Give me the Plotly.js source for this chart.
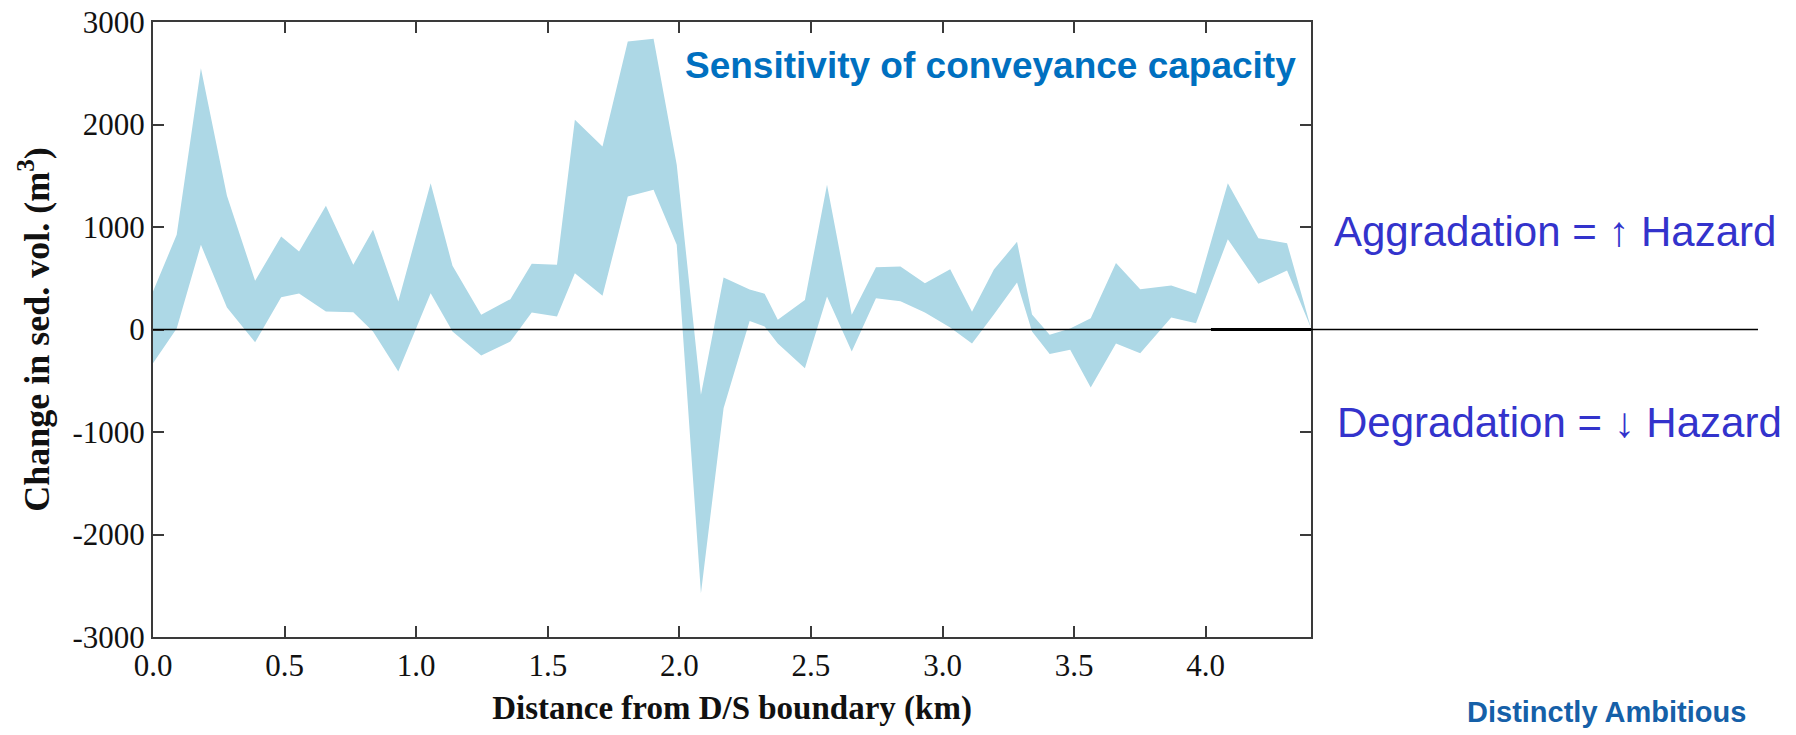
<!DOCTYPE html>
<html>
<head>
<meta charset="utf-8">
<script src="https://cdn.plot.ly/plotly-3.0.1.min.js"></script>
<style>
  html, body { margin: 0; padding: 0; background: #ffffff; }
  #chart { width: 1796px; height: 735px; }
</style>
</head>
<body>
<div id="chart"></div>
<script>
// Distance from D/S boundary (km)
const distanceKm = [0, 0.09, 0.182, 0.281, 0.388, 0.487, 0.555, 0.657, 0.761, 0.836,
  0.932, 1.055, 1.138, 1.247, 1.358, 1.439, 1.535, 1.603, 1.708, 1.804,
  1.902, 1.99, 2.082, 2.168, 2.267, 2.324, 2.374, 2.477, 2.561, 2.655,
  2.747, 2.84, 2.933, 3.029, 3.112, 3.195, 3.283, 3.34, 3.407, 3.485,
  3.563, 3.659, 3.751, 3.869, 3.963, 4.084, 4.2, 4.309, 4.4];

// Upper bound of change in sediment volume (m3)
const upperVol = [370, 924, 2550, 1304, 475, 907, 761, 1207, 631, 973,
  273, 1427, 621, 143, 296, 641, 631, 2046, 1785, 2810,
  2836, 1607, -637, 507, 390, 350, 94, 287, 1412, 143,
  608, 615, 452, 588, 172, 585, 855, 146, -52, 10,
  110, 648, 393, 429, 348, 1427, 891, 842, 15];

// Lower bound of change in sediment volume (m3)
const lowerVol = [-329, 10, 826, 215, -124, 315, 351, 176, 169, -20,
  -410, 354, -20, -254, -117, 166, 127, 549, 329, 1298,
  1363, 826, -2572, -768, 82, 30, -137, -378, 322, -215,
  305, 276, 165, 20, -137, 146, 459, -20, -239, -198,
  -566, -137, -231, 117, 62, 881, 446, 576, 15];

const yTickVals = [-3000, -2000, -1000, 0, 1000, 2000, 3000];
const yTickText = ['-3000', '-2000', '-1000', '0', '1000', '2000', '3000'];
const xTickVals = [0, 0.5, 1.0, 1.5, 2.0, 2.5, 3.0, 3.5, 4.0];
const xTickText = ['0.0', '0.5', '1.0', '1.5', '2.0', '2.5', '3.0', '3.5', '4.0'];

const bandColor = 'rgb(173,216,230)';
const axisColor = '#3a3a3a';
const serif = 'Liberation Serif, Times New Roman, serif';
const sans = 'Liberation Sans, Arial, sans-serif';

const traces = [
  {
    x: distanceKm, y: lowerVol, type: 'scatter', mode: 'lines',
    line: { width: 0, color: bandColor }, hoverinfo: 'skip', showlegend: false
  },
  {
    x: distanceKm, y: upperVol, type: 'scatter', mode: 'lines',
    fill: 'tonexty', fillcolor: bandColor,
    line: { width: 0, color: bandColor }, hoverinfo: 'skip', showlegend: false
  }
];

const layout = {
  width: 1796, height: 735,
  margin: { l: 153, r: 485, t: 22, b: 98 },
  paper_bgcolor: '#ffffff', plot_bgcolor: '#ffffff',
  showlegend: false,
  xaxis: {
    range: [0, 4.4], autorange: false,
    tickvals: xTickVals, ticktext: xTickText,
    ticks: 'inside', ticklen: 11, tickwidth: 2, tickcolor: axisColor,
    showline: true, linecolor: axisColor, linewidth: 2, mirror: 'ticks',
    showgrid: false, zeroline: false,
    tickfont: { family: serif, size: 31, color: '#111111' },
    title: { text: 'Distance from D/S boundary (km)', standoff: 14,
      font: { family: serif, size: 33, color: '#111111', weight: 'bold' } }
  },
  yaxis: {
    range: [-3000, 3000], autorange: false,
    tickvals: yTickVals, ticktext: yTickText,
    ticks: 'inside', ticklen: 11, tickwidth: 2, tickcolor: axisColor,
    showline: true, linecolor: axisColor, linewidth: 2, mirror: 'ticks',
    showgrid: false, zeroline: false,
    tickfont: { family: serif, size: 31, color: '#111111' },
    title: { text: 'Change in sed. vol. (m<sup>3</sup>)', standoff: 12,
      font: { family: serif, size: 36, color: '#111111', weight: 'bold' } }
  },
  shapes: [
    { type: 'line', xref: 'paper', yref: 'y', x0: 0, x1: 1.386, y0: 0, y1: 0,
      line: { color: '#000000', width: 1.5 }, layer: 'above' },
    { type: 'line', xref: 'x', yref: 'y', x0: 4.02, x1: 4.43, y0: 0, y1: 0,
      line: { color: '#000000', width: 3 }, layer: 'above' }
  ],
  annotations: [
    { text: '<b>Sensitivity of conveyance capacity</b>', xref: 'paper', yref: 'paper',
      x: (683 - 153) / 1158, y: 1 - (65 - 22) / 615, xanchor: 'left', yanchor: 'middle',
      showarrow: false, font: { family: sans, size: 37, color: '#0070C0' } },
    { text: 'Aggradation = ↑ Hazard', xref: 'paper', yref: 'paper',
      x: (1332 - 153) / 1158, y: 1 - (231 - 22) / 615, xanchor: 'left', yanchor: 'middle',
      showarrow: false, font: { family: sans, size: 42, color: '#3333CC' } },
    { text: 'Degradation = ↓ Hazard', xref: 'paper', yref: 'paper',
      x: (1335 - 153) / 1158, y: 1 - (422 - 22) / 615, xanchor: 'left', yanchor: 'middle',
      showarrow: false, font: { family: sans, size: 42, color: '#3333CC' } },
    { text: '<b>Distinctly Ambitious</b>', xref: 'paper', yref: 'paper',
      x: (1465 - 153) / 1158, y: 1 - (712 - 22) / 615, xanchor: 'left', yanchor: 'middle',
      showarrow: false, font: { family: sans, size: 29, color: '#1560A8' } }
  ]
};

Plotly.newPlot('chart', traces, layout, { staticPlot: true, displayModeBar: false });
</script>
</body>
</html>
